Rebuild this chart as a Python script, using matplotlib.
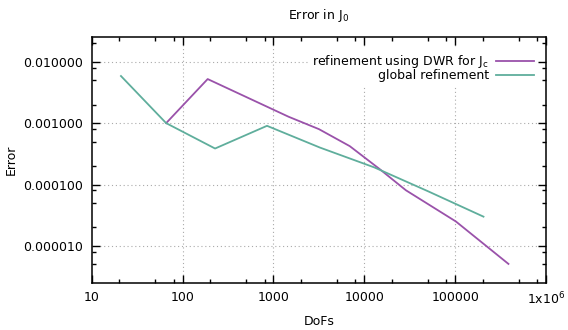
import matplotlib
matplotlib.use("Agg")
import matplotlib.pyplot as plt
from matplotlib.ticker import LogLocator, FixedLocator, NullFormatter

# Data
dwr_dofs = [66, 189, 1470, 3170, 6920, 14800, 28700, 102000, 386000]
dwr_err = [0.00100, 0.00522, 0.00127, 0.000798, 0.000422, 0.000178, 8.07e-5, 2.5e-5, 5.1e-6]

glob_dofs = [21, 66, 228, 850, 3250, 12900, 51000, 205000]
glob_err = [0.00585, 0.00100, 0.000386, 0.000904, 0.000400, 0.000190, 7.7e-5, 3.0e-5]

x_ticks = [10, 100, 1000, 10000, 100000, 1000000]
x_ticklabels = ["10", "100", "1000", "10000", "100000", "1x10$^6$"]
y_ticks = [1e-5, 1e-4, 1e-3, 1e-2]
y_ticklabels = ["0.000010", "0.000100", "0.001000", "0.010000"]

labels = ["refinement using DWR for J$_\\mathregular{c}$", "global refinement"]
colors = ["#9a52aa", "#5fae9c"]

plt.rcParams['font.family'] = ['DejaVu Sans']
fs = 9

fig = plt.figure(figsize=(5.68, 3.30), dpi=100)
ax = fig.add_axes([0.1614, 0.1433, 0.9613 - 0.1614, 0.888 - 0.1433])

ax.plot(dwr_dofs, dwr_err, color=colors[0], lw=1.3, label=labels[0])
ax.plot(glob_dofs, glob_err, color=colors[1], lw=1.3, label=labels[1])

ax.set_xscale('log')
ax.set_yscale('log')
ax.set_xlim(10, 1e6)
ax.set_ylim(2.52e-6, 0.0253)

ax.xaxis.set_major_locator(FixedLocator(x_ticks))
ax.set_xticklabels(x_ticklabels, fontsize=fs)
ax.yaxis.set_major_locator(FixedLocator(y_ticks))
ax.set_yticklabels(y_ticklabels, fontsize=fs)
ax.xaxis.set_minor_locator(LogLocator(base=10, subs=[2, 5, 8]))
ax.yaxis.set_minor_locator(LogLocator(base=10, subs=[2, 5, 8]))
ax.xaxis.set_minor_formatter(NullFormatter())
ax.yaxis.set_minor_formatter(NullFormatter())

ax.tick_params(which='both', direction='in', top=True, right=True, width=1.0)
ax.tick_params(which='major', length=5.5, pad=6)
ax.tick_params(which='minor', length=3)
for s in ax.spines.values():
    s.set_linewidth(1.1)

# gridlines only at inner decades
ax.grid(False)
for xv in x_ticks[1:-1]:
    ax.axvline(xv, color='#aaaaaa', lw=0.8, ls=(0, (1, 2.5)), zorder=0)
for yv in y_ticks:
    ax.axhline(yv, color='#aaaaaa', lw=0.8, ls=(0, (1, 2.5)), zorder=0)

ax.set_title("Error in J$_\\mathregular{0}$", fontsize=fs, pad=13)
ax.set_xlabel("DoFs", fontsize=fs, labelpad=5)
ax.set_ylabel("Error", fontsize=fs, labelpad=4)

leg = ax.legend(loc='upper right', fontsize=fs, markerfirst=False, frameon=True,
                framealpha=1.0, edgecolor='none', facecolor='white', fancybox=False,
                handlelength=3.0, handletextpad=0.6, borderpad=0.3,
                labelspacing=-0.05, bbox_to_anchor=(0.995, 0.975))
for t in leg.get_texts():
    t.set_ha('right')
leg.set_zorder(5)

fig.savefig("out.png", dpi=100, facecolor='white')
